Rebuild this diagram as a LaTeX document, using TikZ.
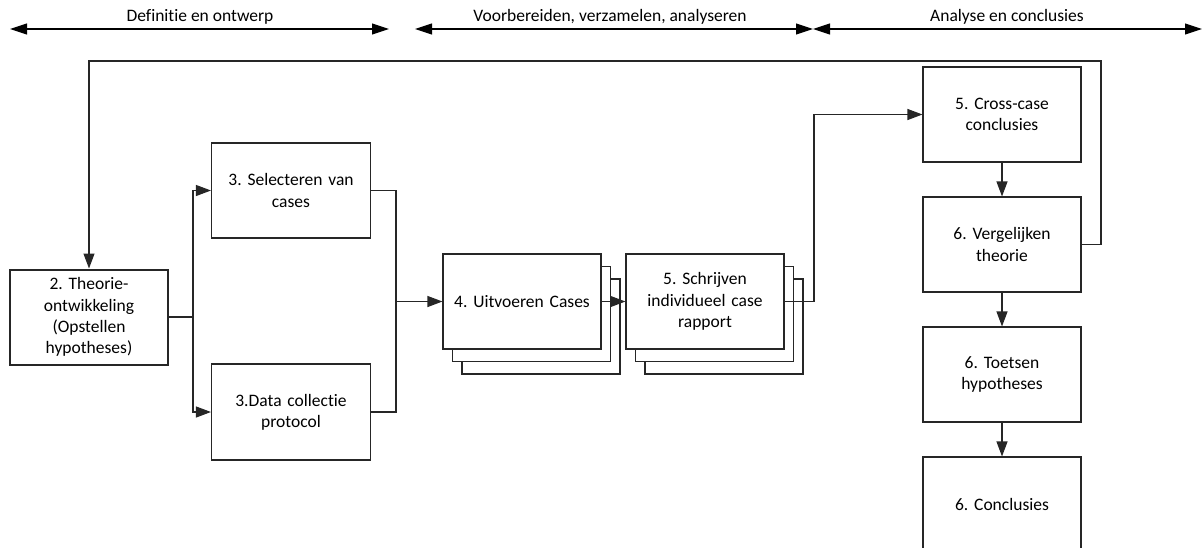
\documentclass[tikz,border=0pt]{standalone}
\usepackage{fontspec}
\setmainfont{Carlito}[Ligatures={NoCommon}]
\usetikzlibrary{arrows.meta,calc}

\begin{document}
\frenchspacing
\begin{tikzpicture}[x=1pt,y=-1pt,
  every node/.style={font=\fontsize{17.5}{21.3}\selectfont},
  box/.style={draw=black!85, line width=1.1pt, fill=white, minimum width=158pt,
    minimum height=95pt, align=center, inner sep=2pt, text width=150pt},
  arr/.style={-{Triangle[length=15pt,width=11pt]}},
  link/.style={draw=black!85, line width=1.1pt},
  span/.style={{Triangle[length=17pt,width=11pt]}-{Triangle[length=17pt,width=11pt]}, line width=1.1pt}
]
\useasboundingbox (0,0) rectangle (1202,547);
\clip (0,0) rectangle (1202,547);

% phase bars along the top
\coordinate (p1l) at (10,29);  \coordinate (p1r) at (389,29);
\coordinate (p2l) at (415,29); \coordinate (p2r) at (813,29);
\coordinate (p3l) at (813,29); \coordinate (p3r) at (1202,29);
\draw[span] (p1l) -- (p1r);
\draw[span] (p2l) -- (p2r);
\draw[span] (p3l) -- (p3r);
\node (t1) at (200,17) {Definitie en ontwerp};
\node (t2) at (610,17) {Voorbereiden, verzamelen, analyseren};
\node (t3) at (1007,17) {Analyse en conclusies};

% design phase
\node[box, line width=2pt] (theory) at (89,317) {2. Theorie-\\ontwikkeling\\(Opstellen\\hypotheses)};
\node[box, minimum width=159pt] (sel) at (291,190.5) {3. Selecteren van\\cases};
\node[box, minimum width=159pt, minimum height=96pt] (data) at (291,412) {3.Data collectie\\protocol};

% stacked case boxes
\node[box] (uit3) at (541,326.5) {};
\node[box] (uit2) at (531.5,314) {};
\node[box] (uit) at (522,301.5) {4. Uitvoeren Cases};
\node[box] (schr3) at (724,326.5) {};
\node[box] (schr2) at (714.5,314) {};
\node[box] (schr) at (705,301.5) {5. Schrijven\\individueel case\\rapport};

% analysis column
\node[box] (cross) at (1002,114.5) {5. Cross-case\\conclusies};
\node[box] (verg) at (1002,244.5) {6. Vergelijken\\theorie};
\node[box] (toets) at (1002,374.5) {6. Toetsen\\hypotheses};
\node[box] (concl) at (1002,504.5) {6. Conclusies};

% connectors
\coordinate (bx) at (193,0);
\coordinate (mx) at (396,301.5);
\coordinate (sx) at (814,0);
\coordinate (fx) at (1101,61);

\draw[link] (theory.east) -- (theory.east -| bx);
\draw[link,arr] (theory.east -| bx) |- (sel.west);
\draw[link,arr] (theory.east -| bx) |- (data.west);
\draw[link] (sel.east) -| (mx);
\draw[link] (data.east) -| (mx);
\draw[link,arr] (mx) -- (uit.west);
\draw[link,arr] (uit.east) -- (schr.west);
\draw[link,arr] (schr.east) -| (sx |- cross.west) -- (cross.west);
\draw[link,arr] (cross.south) -- (verg.north);
\draw[link,arr] (verg.south) -- (toets.north);
\draw[link,arr] (toets.south) -- (concl.north);
\draw[link,arr] (verg.east) -| (fx) -| (theory.north);
\end{tikzpicture}
\end{document}
